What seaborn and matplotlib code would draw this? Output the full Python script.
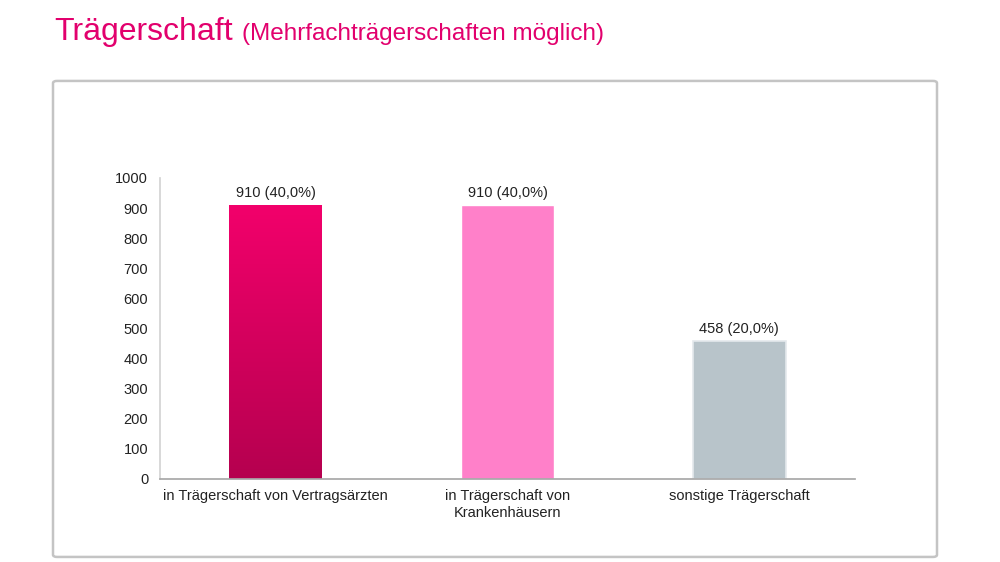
import numpy as np
import pandas as pd
import matplotlib
matplotlib.use("Agg")
import matplotlib.pyplot as plt
import matplotlib.colors as colors
from matplotlib.patches import FancyBboxPatch
import seaborn as sns

categories = ["in Trägerschaft von Vertragsärzten",
              "in Trägerschaft von\nKrankenhäusern",
              "sonstige Trägerschaft"]
counts = [910, 910, 458]
shares = ["40,0%", "40,0%", "20,0%"]
bar_colors = ["#E0005F", "#FF80C9", "#B8C4CA"]
yticks = [0, 100, 200, 300, 400, 500, 600, 700, 800, 900, 1000]

sns.set_theme(style="white")
plt.rcParams["font.family"] = ["Liberation Sans", "DejaVu Sans"]

df = pd.DataFrame({"cat": categories, "n": counts})

fig = plt.figure(figsize=(10, 5.62), dpi=100)
ax = fig.add_axes([0.16, 0.1477, 0.695, 0.5356])

sns.barplot(data=df, x="cat", y="n", hue="cat", palette=bar_colors,
            width=0.4, legend=False, ax=ax, saturation=1)

bars = sorted([p for p in ax.patches if p.get_height() > 0], key=lambda p: p.get_x())

# gradient on the first bar, edge on the grey one
p0 = bars[0]
x0 = p0.get_x()
grad = np.linspace(0, 1, 256).reshape(-1, 1)
cmap = colors.LinearSegmentedColormap.from_list("g", ["#B5004F", "#F2006B"])
im = ax.imshow(grad, cmap=cmap, aspect="auto", origin="lower",
               extent=[x0, x0 + p0.get_width(), 0, p0.get_height()], zorder=p0.get_zorder() + 0.1)
im.set_clip_path(p0)
bars[2].set_edgecolor("#E4E9EC")
bars[2].set_linewidth(1.2)

for p, c, s in zip(bars, counts, shares):
    ax.annotate("{} ({})".format(c, s), (p.get_x() + p.get_width() / 2, p.get_height()),
                xytext=(0, 4), textcoords="offset points", ha="center", va="bottom",
                fontsize=10.5, color="#222222")

ax.set_xlim(-0.5, 2.5)
ax.set_ylim(0, 1000)
ax.set_yticks(yticks)
ax.set_xlabel("")
ax.set_ylabel("")
ax.tick_params(axis="both", length=0, labelsize=10.5, colors="#222222")
ax.tick_params(axis="y", pad=8.5)
ax.tick_params(axis="x", pad=7.5)
for s in ["top", "right"]:
    ax.spines[s].set_visible(False)
ax.spines["left"].set_color("#D4D4D4")
ax.spines["bottom"].set_color("#A8A8A8")

box = FancyBboxPatch((0.053, 0.009), 0.884, 0.847, boxstyle="round,pad=0,rounding_size=0.004",
                     transform=fig.transFigure, fill=False, edgecolor="#C4C4C4", linewidth=1.8)
fig.patches.append(box)

fig.text(0.054, 0.929, "Trägerschaft", fontsize=23, color="#E2006D", va="baseline")
fig.text(0.242, 0.929, "(Mehrfachträgerschaften möglich)", fontsize=17.5, color="#E2006D", va="baseline")

fig.savefig("out.png", dpi=100)
